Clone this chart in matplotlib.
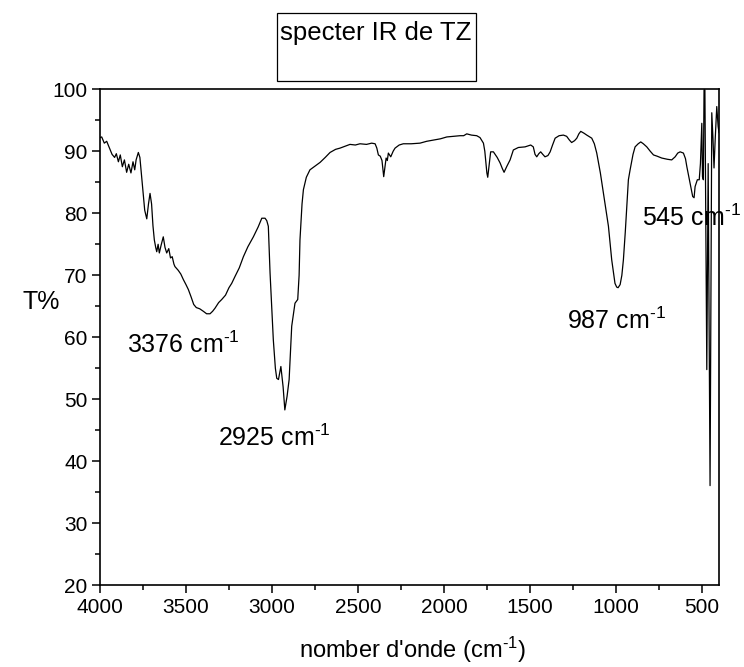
"""
Spectre IR de TZ - transmittance vs nombre d'onde.
"""

import matplotlib
matplotlib.use("Agg")
import matplotlib.pyplot as plt
from matplotlib.patches import Rectangle
from matplotlib.ticker import MultipleLocator

OUT_PATH = "out.png"

# nombre d'onde (cm-1)
WAVENUMBER = [
    4000, 3990, 3975, 3961, 3945, 3930, 3915, 3905, 3893, 3882, 3870, 3858,
    3845, 3833, 3820, 3808, 3798, 3790, 3777, 3768, 3755, 3740, 3728, 3718,
    3709, 3700, 3692, 3684, 3676, 3670, 3662, 3655, 3645, 3632, 3622, 3612,
    3600, 3590, 3580, 3570, 3564, 3545, 3530, 3515, 3500, 3486, 3470, 3455,
    3440, 3420, 3399, 3380, 3360, 3345, 3331, 3310, 3292, 3270, 3250, 3234,
    3215, 3190, 3166, 3140, 3108, 3080, 3059, 3040, 3030, 3021, 3011, 3000,
    2992, 2980, 2972, 2962, 2948, 2935, 2925, 2912, 2900, 2885, 2866, 2850,
    2842, 2837, 2825, 2817, 2800, 2779, 2750, 2720, 2690, 2662, 2630, 2604,
    2575, 2546, 2515, 2488, 2450, 2420, 2400, 2390, 2381, 2370, 2360, 2350,
    2340, 2336, 2329, 2323, 2309, 2295, 2284, 2260, 2236, 2190, 2139, 2100,
    2061, 2020, 1983, 1945, 1906, 1885, 1867, 1840, 1809, 1790, 1770, 1762,
    1757, 1750, 1745, 1738, 1728, 1712, 1690, 1673, 1660, 1650, 1635, 1615,
    1596, 1567, 1528, 1495, 1480, 1470, 1460, 1448, 1437, 1425, 1412, 1395,
    1382, 1368, 1353, 1330, 1305, 1286, 1270, 1257, 1240, 1227, 1215, 1204,
    1185, 1169, 1140, 1125, 1111, 1090, 1072, 1043, 1024, 1005, 995, 987,
    975, 965, 956, 945, 936, 927, 917, 900, 888, 870, 855, 840,
    820, 800, 781, 760, 733, 700, 675, 655, 640, 626, 607, 595,
    587, 568, 553, 545, 539, 526, 515, 508, 500, 496, 491, 487,
    482, 471, 463, 452, 442, 435, 429, 422, 413, 405, 400,
]

# transmittance (%)
TRANSMITTANCE = [
    92.2, 92.3, 91.3, 91.6, 90.5, 89.5, 89.0, 89.6, 88.3, 89.4, 87.5, 88.6,
    86.6, 87.9, 86.5, 88.3, 87.0, 88.6, 89.8, 89.0, 85.0, 80.5, 79.1, 81.5,
    83.2, 81.5, 78.0, 75.7, 74.5, 73.8, 75.0, 73.6, 74.8, 76.2, 74.5, 73.6,
    74.3, 72.8, 73.0, 71.8, 71.4, 70.8, 70.2, 69.3, 68.5, 67.7, 66.5, 65.3,
    64.8, 64.6, 64.2, 63.8, 63.8, 64.2, 64.7, 65.6, 66.1, 66.8, 68.0, 68.7,
    69.8, 71.2, 73.0, 74.6, 76.2, 77.8, 79.2, 79.2, 78.8, 77.9, 70.4, 64.0,
    59.6, 55.0, 53.4, 53.2, 55.3, 52.0, 48.3, 50.5, 53.2, 61.8, 65.5, 66.1,
    70.0, 75.7, 81.5, 83.8, 85.8, 87.0, 87.6, 88.2, 89.0, 89.8, 90.3, 90.5,
    90.8, 91.1, 91.0, 91.2, 91.1, 91.3, 91.2, 90.5, 89.4, 89.2, 88.5, 85.9,
    88.0, 88.9, 88.5, 89.7, 89.1, 90.0, 90.5, 91.0, 91.2, 91.2, 91.3, 91.6,
    91.8, 92.0, 92.3, 92.4, 92.5, 92.5, 92.8, 92.6, 92.5, 92.2, 91.3, 90.0,
    88.6, 86.5, 85.8, 87.5, 89.9, 89.9, 89.0, 88.1, 87.2, 86.6, 87.5, 88.6,
    90.2, 90.6, 90.7, 91.0, 90.7, 89.5, 89.1, 89.6, 89.9, 89.5, 89.1, 89.3,
    89.9, 91.0, 92.1, 92.5, 92.6, 92.4, 91.8, 91.4, 91.7, 92.1, 92.8, 93.2,
    92.9, 92.6, 92.1, 91.2, 89.7, 86.5, 83.2, 77.9, 72.5, 68.7, 68.1, 68.0,
    68.5, 70.0, 72.5, 77.0, 81.1, 85.4, 87.0, 89.5, 90.7, 91.2, 91.5, 91.2,
    90.7, 90.0, 89.4, 89.2, 88.9, 88.7, 88.6, 89.1, 89.7, 89.9, 89.7, 88.8,
    87.5, 84.8, 82.7, 82.5, 84.3, 85.4, 85.4, 88.0, 94.5, 85.9, 85.4, 99.9,
    99.9, 54.8, 88.0, 36.1, 96.2, 92.0, 87.3, 92.0, 97.2, 94.0, 93.0,
]

# bandes annotees
PEAK_LABELS = ["3376", "2925", "987", "545"]
PEAK_TEXT_X = [3843, 3314, 1283, 847]
PEAK_TEXT_Y = [57.4, 42.5, 61.3, 78.0]

X_TICKS = [4000, 3500, 3000, 2500, 2000, 1500, 1000, 500]
Y_TICKS = [20, 30, 40, 50, 60, 70, 80, 90, 100]


def setup_style() -> None:
    plt.rcParams["font.family"] = ["Liberation Sans", "DejaVu Sans"]
    plt.rcParams["mathtext.fontset"] = "custom"
    plt.rcParams["mathtext.rm"] = "Liberation Sans"
    plt.rcParams["mathtext.default"] = "regular"


def plot_spectrum(out_path: str) -> None:
    fig = plt.figure(figsize=(7.44, 6.67), dpi=100)
    ax = fig.add_axes([0.1344, 0.1222, 0.8320, 0.7441])

    ax.plot(WAVENUMBER, TRANSMITTANCE, color="black", linewidth=0.9)

    ax.set_xlim(4000, 400)
    ax.set_ylim(20, 100)
    ax.set_xticks(X_TICKS)
    ax.set_yticks(Y_TICKS)
    ax.xaxis.set_minor_locator(MultipleLocator(250))
    ax.yaxis.set_minor_locator(MultipleLocator(5))
    ax.tick_params(which="major", direction="out", length=6, width=1.1,
                   labelsize=15, pad=3)
    ax.tick_params(which="minor", direction="out", length=3.5, width=1.1)
    for spine in ax.spines.values():
        spine.set_linewidth(1.2)

    for label, x, y in zip(PEAK_LABELS, PEAK_TEXT_X, PEAK_TEXT_Y):
        ax.text(x, y, label + " cm$^{\\text{-}1}$", fontsize=18,
                ha="left", va="baseline")

    fig.text(0.030, 0.547, "T%", fontsize=18, ha="left", va="center")
    fig.text(0.555, 0.014, "nomber d'onde (cm$^{\\text{-}1}$)", fontsize=17,
             ha="center", va="baseline")

    # titre encadre
    fig.add_artist(Rectangle((0.3723, 0.8786), 0.2675, 0.102,
                             transform=fig.transFigure, fill=False,
                             edgecolor="black", linewidth=0.9))
    fig.text(0.5054, 0.9505, "specter IR de TZ", fontsize=18.5,
             ha="center", va="center")

    fig.savefig(out_path, dpi=100)
    plt.close(fig)


def main() -> None:
    setup_style()
    plot_spectrum(OUT_PATH)


if __name__ == "__main__":
    main()
